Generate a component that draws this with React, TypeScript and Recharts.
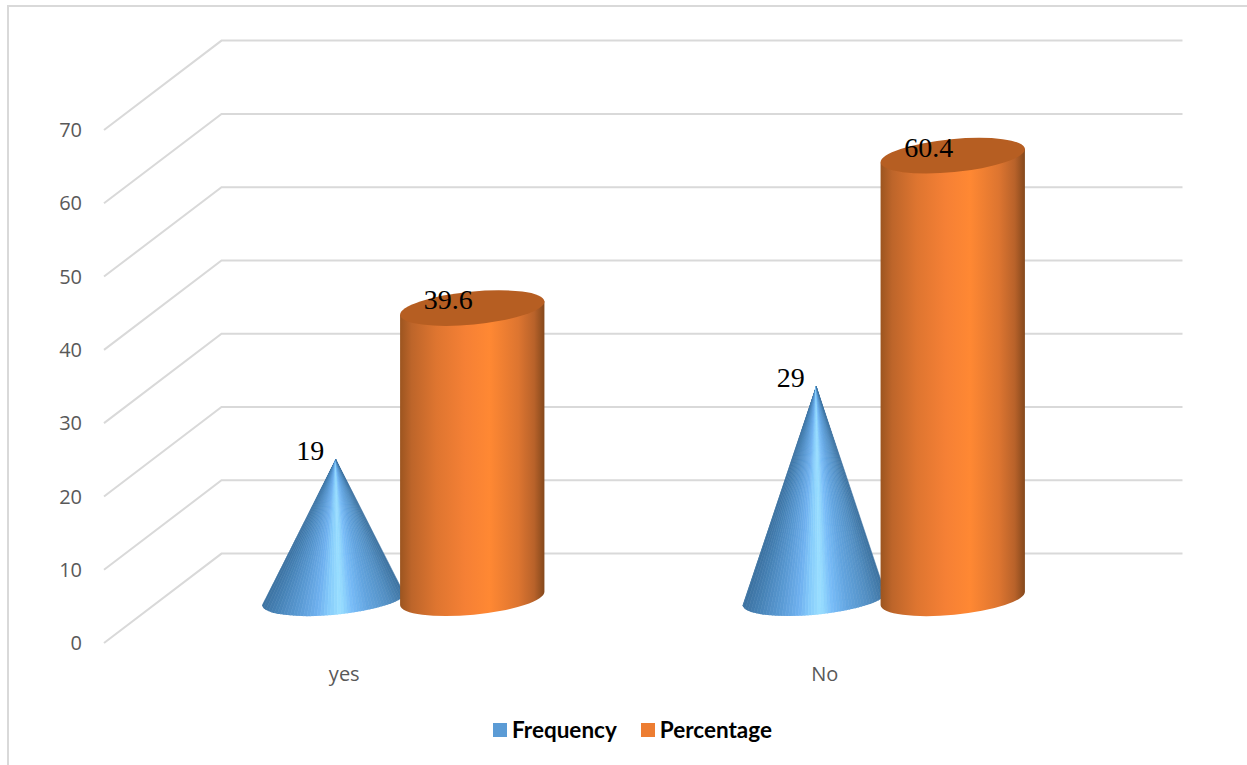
import { BarChart, Bar, XAxis, YAxis, CartesianGrid, Legend, LabelList } from 'recharts';

const CATEGORIES = ['yes', 'No'];
const FREQUENCY = [19, 29];
const PERCENTAGE = [39.6, 60.4];
const Y_TICKS = [0, 10, 20, 30, 40, 50, 60, 70];

const chartData = CATEGORIES.map((name, i) => ({
  name,
  frequency: FREQUENCY[i],
  percentage: PERCENTAGE[i],
}));

// Oblique projection: how far the back wall sits from the front plane
const DEPTH_X = 117.5;
const DEPTH_Y = -89.4;
// Bars stand halfway between front plane and back wall
const BAR_DX = DEPTH_X / 2;
const BAR_DY = DEPTH_Y / 2;
const TILT = (5.5 * Math.PI) / 180;
const MINOR = 16.5;

const GRID = '#d9d9d9';
const TICK_FONT = '"Open Sans", sans-serif';
const LEGEND_FONT = 'Lato, "Open Sans", sans-serif';

// [offset across the shape, colour]
const CONE_SHADE: [number, string][] = [
  [0, '#3a6f9c'],
  [0.12, '#4580b3'],
  [0.28, '#5b9bd5'],
  [0.4, '#70b2f0'],
  [0.47, '#86ccfb'],
  [0.54, '#9adfff'],
  [0.62, '#78bcf8'],
  [0.72, '#63a5e0'],
  [0.86, '#5490c4'],
  [1, '#3d729f'],
];

function hexToRgb(hex: string) {
  return [1, 3, 5].map((p) => parseInt(hex.slice(p, p + 2), 16));
}

function shadeAt(t: number) {
  let k = 0;
  while (k < CONE_SHADE.length - 2 && t > CONE_SHADE[k + 1][0]) k++;
  const [t0, c0] = CONE_SHADE[k];
  const [t1, c1] = CONE_SHADE[k + 1];
  const f = (t - t0) / (t1 - t0);
  const a = hexToRgb(c0);
  const b = hexToRgb(c1);
  return `rgb(${a.map((v, i) => Math.round(v + (b[i] - v) * f)).join(',')})`;
}

// Point on the tilted base ellipse, angle 0 = right end, PI/2 = front
function rimPoint(cx: number, cy: number, a: number, angle: number) {
  const ex = a * Math.cos(angle);
  const ey = MINOR * Math.sin(angle);
  return {
    x: cx + ex * Math.cos(TILT) + ey * Math.sin(TILT),
    y: cy - ex * Math.sin(TILT) + ey * Math.cos(TILT),
  };
}

function ConeShape(props: any) {
  const { x, y, width, height, index } = props;
  const cx = x + width / 2 + BAR_DX;
  const baseY = y + height + BAR_DY;
  const apexX = cx + 1.5;
  const apexY = y + BAR_DY;
  const a = width / 2;
  const left = rimPoint(cx, baseY, a, Math.PI);
  const right = rimPoint(cx, baseY, a, 0);
  const deg = (TILT * 180) / Math.PI;
  const outline = `M${apexX},${apexY} L${left.x},${left.y} A${a},${MINOR} ${-deg} 0 0 ${right.x},${right.y} Z`;
  const clipId = `cone-clip-${index}`;

  // Fan of thin wedges from the apex so the shading converges on the tip
  const steps = 48;
  const wedges = [];
  for (let i = 0; i < steps; i++) {
    const x0 = left.x + ((right.x - left.x) * i) / steps;
    const x1 = left.x + ((right.x - left.x) * (i + 1)) / steps;
    const extend = baseY + MINOR + 6;
    const color = shadeAt((i + 0.5) / steps);
    const scale = (extend - apexY) / (baseY - apexY);
    const bx0 = apexX + (x0 - apexX) * scale;
    const bx1 = apexX + (x1 - apexX) * scale;
    wedges.push(
      <path
        key={i}
        d={`M${apexX},${apexY} L${bx0},${extend} L${bx1},${extend} Z`}
        fill={color}
        stroke={color}
        strokeWidth={0.6}
      />,
    );
  }

  return (
    <g>
      <clipPath id={clipId}>
        <path d={outline} />
      </clipPath>
      <g clipPath={`url(#${clipId})`}>{wedges}</g>
    </g>
  );
}

function CylinderShape(props: any) {
  const { x, y, width, height } = props;
  const cx = x + width / 2 + BAR_DX;
  const topY = y + BAR_DY;
  const baseY = y + height + BAR_DY;
  const a = width / 2;
  const deg = (TILT * 180) / Math.PI;
  const tl = rimPoint(cx, topY, a, Math.PI);
  const tr = rimPoint(cx, topY, a, 0);
  const bl = rimPoint(cx, baseY, a, Math.PI);
  const br = rimPoint(cx, baseY, a, 0);
  const side = `M${tl.x},${tl.y} L${bl.x},${bl.y} A${a},${MINOR} ${-deg} 0 0 ${br.x},${br.y} L${tr.x},${tr.y} Z`;
  return (
    <g>
      <path d={side} fill="url(#cylinderSide)" />
      <ellipse
        cx={cx}
        cy={topY}
        rx={a}
        ry={MINOR}
        transform={`rotate(${-deg} ${cx} ${topY})`}
        fill="#b65e22"
      />
    </g>
  );
}

// Horizontal gridline folded along the side wall onto the back wall
function WallLine(props: any) {
  const { x1, x2, y1 } = props;
  const backY = y1 + DEPTH_Y;
  return (
    <polyline
      key={`wall-${y1}`}
      points={`${x1},${y1} ${x1 + DEPTH_X},${backY} ${x2 + DEPTH_X},${backY}`}
      fill="none"
      stroke={GRID}
      strokeWidth={2}
    />
  );
}

function valueLabel(props: any) {
  const { x, y, width, value } = props;
  return (
    <text
      x={x + width / 2 + BAR_DX - 24}
      y={y + BAR_DY + 1}
      textAnchor="middle"
      fontFamily='"Liberation Serif", serif'
      fontSize={28}
      fill="#000"
    >
      {value}
    </text>
  );
}

function LegendRow({ payload }: any) {
  return (
    <div style={{ display: 'flex', fontFamily: LEGEND_FONT, fontWeight: 700, fontSize: 22.5, color: '#000' }}>
      {(payload ?? []).map((entry: any, i: number) => (
        <div
          key={entry.value}
          style={{ display: 'flex', alignItems: 'center', marginLeft: i === 0 ? 0 : 24 }}
        >
          <span style={{ width: 14, height: 14, background: entry.color, marginRight: 5 }} />
          <span>{entry.value}</span>
        </div>
      ))}
    </div>
  );
}

export default function App() {
  return (
    <div style={{ position: 'absolute', left: 0, top: 0, width: 1247, height: 765, overflow: 'hidden', background: '#fff' }}>
      <div
        style={{
          position: 'absolute',
          left: 7,
          top: 5,
          width: 1240,
          height: 760,
          borderLeft: `2px solid ${GRID}`,
          borderTop: `2px solid ${GRID}`,
        }}
      />
      <BarChart
        width={1247}
        height={765}
        data={chartData}
        margin={{ top: 130, right: 182, bottom: 35, left: 0 }}
        barSize={145}
        barGap={-7}
        barCategoryGap={0}
        style={{ position: 'absolute', left: 0, top: 0 }}
      >
        <CartesianGrid vertical={false} horizontal={WallLine} />
        <XAxis
          dataKey="name"
          axisLine={false}
          tickLine={false}
          height={60}
          tickMargin={18}
          tick={{ fill: '#595959', fontSize: 20, fontFamily: TICK_FONT }}
        />
        <YAxis
          width={104}
          domain={[0, 70]}
          ticks={Y_TICKS}
          axisLine={false}
          tickLine={false}
          tickMargin={16}
          tick={{ fill: '#595959', fontSize: 20, fontFamily: TICK_FONT }}
        />
        <Legend
          verticalAlign="bottom"
          content={<LegendRow />}
          wrapperStyle={{ left: 493, top: 716, width: 320, bottom: 'auto' }}
        />
        <defs>
          <linearGradient id="cylinderSide" x1="0" y1="0" x2="1" y2="0">
            <stop offset="0%" stopColor="#9c5520" />
            <stop offset="8%" stopColor="#bd652a" />
            <stop offset="25%" stopColor="#de7530" />
            <stop offset="45%" stopColor="#f58035" />
            <stop offset="62%" stopColor="#ff8833" />
            <stop offset="82%" stopColor="#dd7530" />
            <stop offset="93%" stopColor="#b8622a" />
            <stop offset="100%" stopColor="#84481c" />
          </linearGradient>
        </defs>
        <Bar dataKey="frequency" name="Frequency" fill="#5b9bd5" shape={ConeShape} isAnimationActive={false}>
          <LabelList dataKey="frequency" content={valueLabel} />
        </Bar>
        <Bar dataKey="percentage" name="Percentage" fill="#ed7d31" shape={CylinderShape} isAnimationActive={false}>
          <LabelList dataKey="percentage" content={valueLabel} />
        </Bar>
      </BarChart>
    </div>
  );
}
